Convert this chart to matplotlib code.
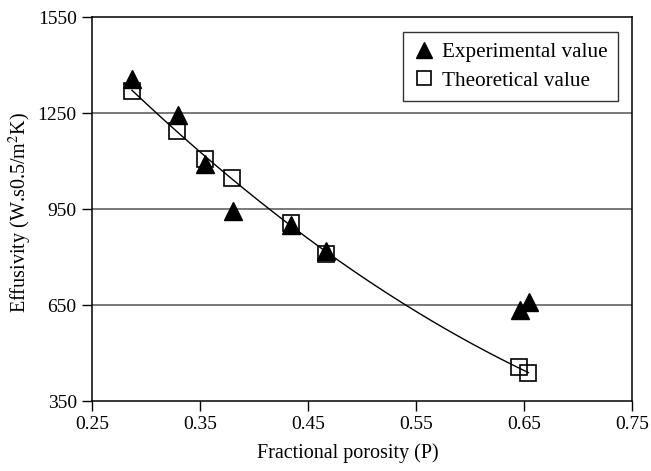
import matplotlib
matplotlib.use("Agg")
import matplotlib.pyplot as plt
import numpy as np

# Experimental values (triangles)
exp_p = [0.287, 0.330, 0.355, 0.381, 0.434, 0.467, 0.646, 0.655]
exp_e = [1356, 1244, 1090, 945, 900, 820, 633, 659]

# Theoretical values (squares)
theo_p = [0.287, 0.329, 0.355, 0.380, 0.434, 0.467, 0.645, 0.654]
theo_e = [1320, 1195, 1106, 1047, 905, 809, 455, 438]

xticks = [0.25, 0.35, 0.45, 0.55, 0.65, 0.75]
yticks = [350, 650, 950, 1250, 1550]

plt.rcParams['font.family'] = ['Liberation Serif', 'DejaVu Serif']
plt.rcParams['mathtext.fontset'] = 'stix'

fig = plt.figure(figsize=(6.51, 4.71), dpi=100)
ax = fig.add_axes([92/651, 1-401/471, 540/651, 384/471])

for y in yticks[1:-1]:
    ax.axhline(y, color='#555555', lw=1.1, zorder=1)

# smooth trend curve through the theoretical values (quadratic fit)
coef = np.polyfit(theo_p, theo_e, 2)
xs = np.linspace(min(theo_p), max(theo_p), 200)
ax.plot(xs, np.polyval(coef, xs), color='black', lw=1.0, zorder=2)

ax.plot(exp_p, exp_e, linestyle='none', marker='^', ms=13, color='black',
        mec='black', zorder=3, label='Experimental value')
ax.plot(theo_p, theo_e, linestyle='none', marker='s', ms=11.5,
        mfc='none', mec='black', mew=1.2, zorder=4, label='Theoretical value')

ax.set_xlim(0.25, 0.75)
ax.set_ylim(350, 1550)
ax.set_xticks(xticks)
ax.set_xticklabels(['%.2f' % v for v in xticks])
ax.set_yticks(yticks)
ax.set_yticklabels([str(v) for v in yticks])
ax.tick_params(direction='out', length=7, width=1, labelsize=14, pad=4, colors='black')
for s in ax.spines.values():
    s.set_linewidth(1.1)
    s.set_color('black')

ax.set_xlabel('Fractional porosity (P)', fontsize=14.5)
ax.xaxis.set_label_coords((348 - 92) / 540, -(443 - 401) / 384)
ax.set_ylabel('Effusivity (W.s0.5/m$^2$K)', fontsize=14.5)
ax.yaxis.set_label_coords(-(92 - 34) / 540, 0.49)

leg = ax.legend(loc='upper right', bbox_to_anchor=(618 / 651, 1 - 32 / 471),
                bbox_transform=fig.transFigure,
                fontsize=15.2, frameon=True, fancybox=False, edgecolor='black',
                markerscale=0.85, handlelength=1.0, handletextpad=0.35, borderpad=0.5,
                labelspacing=0.4, borderaxespad=0)
leg.get_frame().set_linewidth(1.0)

fig.savefig('out.png', dpi=100)
